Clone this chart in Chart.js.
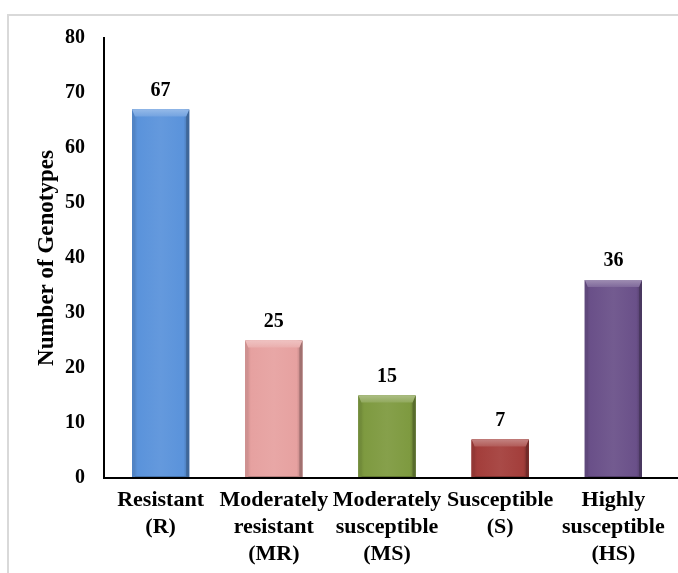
<!DOCTYPE html>
<html>
<head>
<meta charset="utf-8">
<script src="https://cdn.jsdelivr.net/npm/chart.js@4/dist/chart.umd.min.js"></script>
<style>
html,body{margin:0;padding:0;background:#fff;overflow:hidden;}
#wrap{position:absolute;left:0;top:0;width:678px;height:573px;}
</style>
</head>
<body>
<div id="wrap"><canvas id="c" width="678" height="573"></canvas></div>
<script>
const categories = [
  ["Resistant", "(R)"],
  ["Moderately", "resistant", "(MR)"],
  ["Moderately", "susceptible", "(MS)"],
  ["Susceptible", "(S)"],
  ["Highly", "susceptible", "(HS)"]
];
const genotypeCounts = [67, 25, 15, 7, 36];
const barColors = ["#5a93db", "#e6a1a0", "#7e9a40", "#a33e3b", "#6a5089"];
const yTitle = "Number of Genotypes";
const yMin = 0, yMax = 80, yStep = 10;

const FONT = "'Liberation Serif', 'Times New Roman', serif";

function shade(hex, f) {
  const n = parseInt(hex.slice(1), 16);
  let r = (n >> 16) & 255, g = (n >> 8) & 255, b = n & 255;
  if (f >= 0) { r += (255 - r) * f; g += (255 - g) * f; b += (255 - b) * f; }
  else { r *= (1 + f); g *= (1 + f); b *= (1 + f); }
  return `rgb(${Math.round(r)},${Math.round(g)},${Math.round(b)})`;
}

const framePlugin = {
  id: 'frame',
  beforeDraw(chart) {
    const ctx = chart.ctx;
    ctx.save();
    ctx.fillStyle = '#fff';
    ctx.fillRect(0, 0, chart.width, chart.height);
    ctx.strokeStyle = '#d9d9d9';
    ctx.lineWidth = 2;
    ctx.beginPath();
    ctx.moveTo(8, chart.height);
    ctx.lineTo(8, 15);
    ctx.lineTo(chart.width, 15);
    ctx.stroke();
    ctx.restore();
  }
};

const bevelPlugin = {
  id: 'bevel',
  afterDatasetsDraw(chart) {
    const ctx = chart.ctx;
    const meta = chart.getDatasetMeta(0);
    meta.data.forEach((el, i) => {
      const p = el.getProps(['x', 'y', 'base', 'width'], true);
      const l = p.x - p.width / 2, r = p.x + p.width / 2;
      const top = p.y, bot = p.base;
      const col = barColors[i];
      const bt = Math.min(7, (bot - top) / 2), s = 3;
      ctx.save();
      const g = ctx.createLinearGradient(l, 0, r, 0);
      g.addColorStop(0, shade(col, -0.15));
      g.addColorStop(0.1, col);
      g.addColorStop(0.5, shade(col, 0.06));
      g.addColorStop(0.9, col);
      g.addColorStop(1, shade(col, -0.25));
      ctx.fillStyle = g;
      ctx.fillRect(l, top, r - l, bot - top);
      ctx.fillStyle = shade(col, -0.1);
      ctx.beginPath();
      ctx.moveTo(l, top); ctx.lineTo(l + s, top + bt); ctx.lineTo(l + s, bot); ctx.lineTo(l, bot); ctx.closePath(); ctx.fill();
      ctx.fillStyle = shade(col, -0.3);
      ctx.beginPath();
      ctx.moveTo(r, top); ctx.lineTo(r - s, top + bt); ctx.lineTo(r - s, bot); ctx.lineTo(r, bot); ctx.closePath(); ctx.fill();
      const tg = ctx.createLinearGradient(0, top, 0, top + bt);
      tg.addColorStop(0, shade(col, 0.35));
      tg.addColorStop(1, shade(col, 0.15));
      ctx.fillStyle = tg;
      ctx.beginPath();
      ctx.moveTo(l, top); ctx.lineTo(r, top); ctx.lineTo(r - s, top + bt); ctx.lineTo(l + s, top + bt); ctx.closePath(); ctx.fill();
      ctx.fillStyle = shade(col, -0.2);
      ctx.fillRect(l + s, bot - 2, r - l - 2 * s, 2);
      ctx.restore();
    });
  },
  afterDraw(chart) {
    const ctx = chart.ctx;
    const area = chart.chartArea;
    ctx.save();
    ctx.strokeStyle = '#000';
    ctx.lineWidth = 2;
    ctx.beginPath();
    ctx.moveTo(area.left - 1, area.bottom);
    ctx.lineTo(chart.width, area.bottom);
    ctx.stroke();
    const meta = chart.getDatasetMeta(0);
    ctx.fillStyle = '#000';
    ctx.font = "bold 20px " + FONT;
    ctx.textAlign = 'center';
    ctx.textBaseline = 'alphabetic';
    meta.data.forEach((el, i) => {
      const p = el.getProps(['x', 'y'], true);
      ctx.fillText(String(genotypeCounts[i]), p.x, p.y - 14);
    });
    ctx.restore();
  }
};

new Chart(document.getElementById('c'), {
  type: 'bar',
  data: {
    labels: categories,
    datasets: [{
      data: genotypeCounts,
      backgroundColor: barColors,
      borderWidth: 0,
      barPercentage: 0.505,
      categoryPercentage: 1.0
    }]
  },
  options: {
    responsive: false,
    animation: false,
    devicePixelRatio: 1,
    layout: { padding: { left: 0, right: 8, top: 38, bottom: 0 } },
    plugins: { legend: { display: false }, tooltip: { enabled: false } },
    scales: {
      x: {
        grid: { display: false, drawTicks: false },
        border: { display: false },
        ticks: {
          color: '#000',
          font: { family: FONT, size: 22, weight: 'bold', lineHeight: 1.22 },
          padding: 9,
          maxRotation: 0,
          minRotation: 0,
          autoSkip: false
        },
        afterFit(scale) { scale.height = 95; }
      },
      y: {
        min: yMin, max: yMax,
        grid: { display: false, drawTicks: false },
        border: { display: true, color: '#000', width: 2 },
        ticks: {
          stepSize: yStep,
          color: '#000',
          font: { family: FONT, size: 20, weight: 'bold' },
          padding: 19
        },
        title: {
          display: true,
          text: yTitle,
          color: '#000',
          font: { family: FONT, size: 23, weight: 'bold' },
          padding: { top: 33, bottom: 0 }
        },
        afterFit(scale) { scale.width = 104; }
      }
    }
  },
  plugins: [framePlugin, bevelPlugin]
});
</script>
</body>
</html>
